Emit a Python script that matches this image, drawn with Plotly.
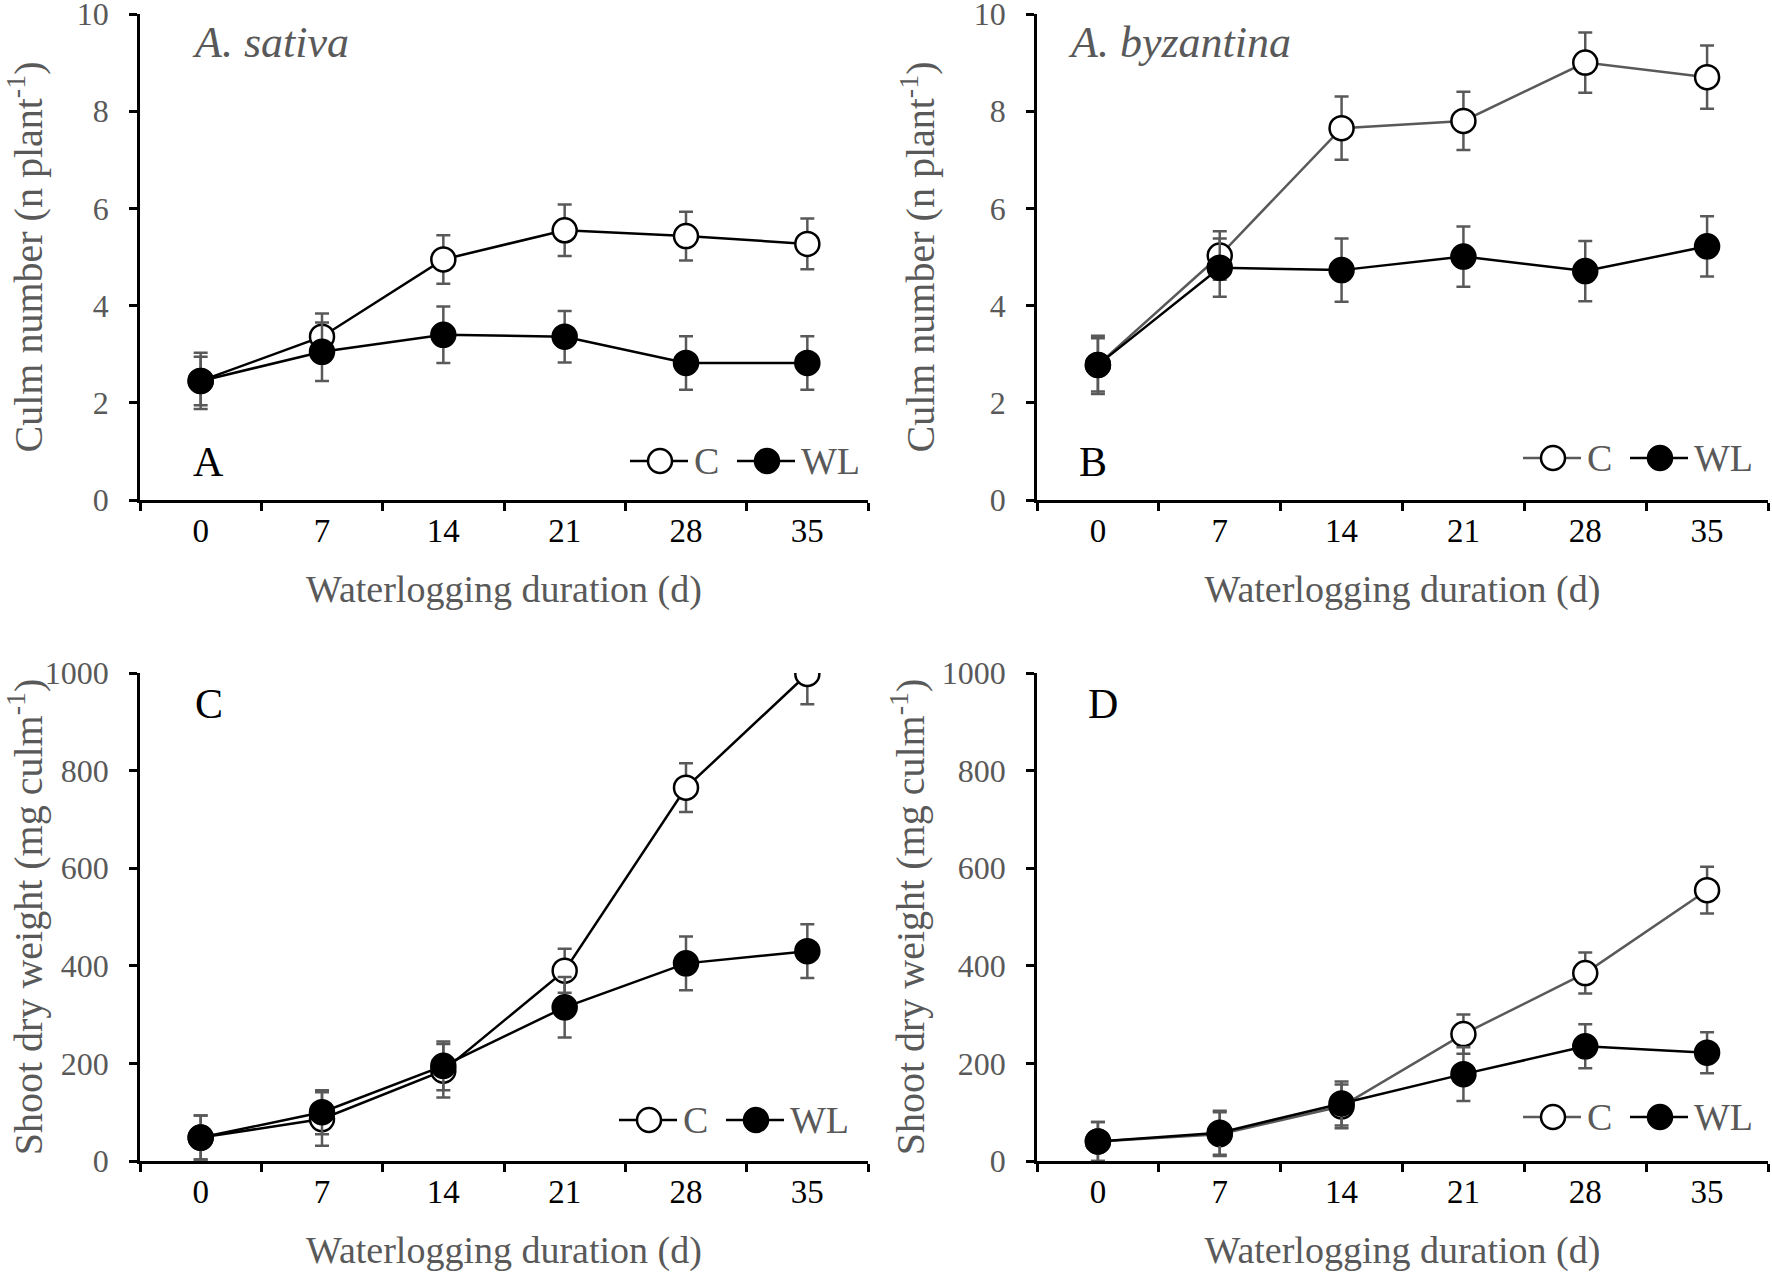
import plotly.graph_objects as go

days = ["0", "7", "14", "21", "28", "35"]

# Panel A: A. sativa culm number
a_c = [2.45, 3.36, 4.95, 5.55, 5.43, 5.27]
a_c_err = [0.50, 0.48, 0.50, 0.53, 0.50, 0.52]
a_wl = [2.45, 3.05, 3.40, 3.36, 2.82, 2.82]
a_wl_err = [0.58, 0.60, 0.58, 0.53, 0.55, 0.55]

# Panel B: A. byzantina culm number
b_c = [2.78, 5.03, 7.65, 7.80, 9.00, 8.70]
b_c_err = [0.55, 0.50, 0.65, 0.60, 0.62, 0.65]
b_wl = [2.78, 4.78, 4.73, 5.01, 4.71, 5.22]
b_wl_err = [0.60, 0.60, 0.65, 0.62, 0.62, 0.62]

# Panel C: A. sativa shoot dry weight
c_c = [48, 86, 185, 390, 765, 998]
c_c_err = [45, 55, 55, 45, 50, 62]
c_wl = [48, 100, 195, 315, 405, 430]
c_wl_err = [45, 45, 50, 62, 55, 55]

# Panel D: A. byzantina shoot dry weight
d_c = [40, 55, 112, 260, 385, 555]
d_c_err = [40, 45, 45, 40, 42, 48]
d_wl = [40, 58, 118, 178, 235, 222]
d_wl_err = [40, 45, 45, 55, 45, 42]

legend_names = ["C", "WL"]

GREY = "#595959"
FONT = "Liberation Serif"
W, H = 1772, 1276


def px(x):
    return x / W


def py(y):
    return 1 - y / H


fig = go.Figure()

panels = [
    ("x", "y", a_c, a_c_err, a_wl, a_wl_err, "black"),
    ("x2", "y2", b_c, b_c_err, b_wl, b_wl_err, GREY),
    ("x3", "y3", c_c, c_c_err, c_wl, c_wl_err, "black"),
    ("x4", "y4", d_c, d_c_err, d_wl, d_wl_err, GREY),
]

for xa, ya, cv, ce, wv, we, ccol in panels:
    fig.add_trace(go.Scatter(
        x=days, y=cv, xaxis=xa, yaxis=ya, name=legend_names[0],
        mode="lines+markers", showlegend=False,
        line=dict(color=ccol, width=2.5),
        marker=dict(symbol="circle", size=24, color="white",
                    line=dict(color="black", width=2.5)),
        error_y=dict(type="data", array=ce, visible=True, color=GREY,
                     thickness=2.5, width=7),
    ))
    fig.add_trace(go.Scatter(
        x=days, y=wv, xaxis=xa, yaxis=ya, name=legend_names[1],
        mode="lines+markers", showlegend=False,
        line=dict(color="black", width=2.5),
        marker=dict(symbol="circle", size=24, color="black",
                    line=dict(color="black", width=2.5)),
        error_y=dict(type="data", array=we, visible=True, color=GREY,
                     thickness=2.5, width=7),
    ))

xdom_left = [px(140), px(868)]
xdom_right = [px(1037), px(1768)]
ydom_top = [py(500), py(14)]
ydom_bot = [py(1161), py(673)]

xaxis_common = dict(
    type="category", categoryorder="array", categoryarray=days,
    range=[-0.5, 5.5], tickson="boundaries", ticks="outside", ticklen=8,
    tickwidth=2.5, tickcolor="black", showline=True, linecolor="black",
    linewidth=2.5, showgrid=False, zeroline=False, automargin=False,
    ticklabelstandoff=0, ticklabeloverflow="allow",
    tickfont=dict(family=FONT, size=33, color="black"),
    title=dict(text="Waterlogging duration (d)",
               font=dict(family=FONT, size=38, color=GREY), standoff=28),
)
yaxis_common = dict(
    ticks="outside", ticklen=8, tickwidth=2.5, tickcolor="black",
    showline=True, linecolor="black", linewidth=2.5, showgrid=False,
    zeroline=False, automargin=False, ticklabelstandoff=14,
    ticklabeloverflow="allow",
    tickfont=dict(family=FONT, size=32, color=GREY),
)

ytitle_culm = "Culm number (n plant<sup>-1</sup>)"
ytitle_shoot = "Shoot dry weight (mg culm<sup>-1</sup>)"
tfont = dict(family=FONT, size=40, color=GREY)

fig.update_layout(
    width=W, height=H,
    paper_bgcolor="white", plot_bgcolor="white",
    margin=dict(l=0, r=0, t=0, b=0),
    showlegend=False,
    font=dict(family=FONT, color=GREY),
    xaxis=dict(domain=xdom_left, anchor="y", **xaxis_common),
    xaxis2=dict(domain=xdom_right, anchor="y2", **xaxis_common),
    xaxis3=dict(domain=xdom_left, anchor="y3", **xaxis_common),
    xaxis4=dict(domain=xdom_right, anchor="y4", **xaxis_common),
    yaxis=dict(domain=ydom_top, anchor="x", range=[0, 10], dtick=2,
               title=dict(text=ytitle_culm, font=tfont, standoff=27),
               **yaxis_common),
    yaxis2=dict(domain=ydom_top, anchor="x2", range=[0, 10], dtick=2,
                title=dict(text=ytitle_culm, font=tfont, standoff=27),
                **yaxis_common),
    yaxis3=dict(domain=ydom_bot, anchor="x3", range=[0, 1000], dtick=200,
                title=dict(text=ytitle_shoot, font=tfont, standoff=5),
                **yaxis_common),
    yaxis4=dict(domain=ydom_bot, anchor="x4", range=[0, 1000], dtick=200,
                title=dict(text=ytitle_shoot, font=tfont, standoff=5),
                **yaxis_common),
)

# Custom legends (line + large circle marker + label), one per panel
legend_pos = [(630, 461, "black"), (1523, 458, GREY),
              (619, 1120, "black"), (1523, 1117, GREY)]
shapes = []
annotations = []
for x0, yc, ccol in legend_pos:
    items = [(x0, ccol, "white", legend_names[0]),
             (x0 + 107, "black", "black", legend_names[1])]
    for sx, lcol, fill, label in items:
        shapes.append(dict(type="line", xref="paper", yref="paper",
                           x0=px(sx), x1=px(sx + 58), y0=py(yc), y1=py(yc),
                           line=dict(color=lcol, width=2.5)))
        shapes.append(dict(type="circle", xref="paper", yref="paper",
                           xsizemode="pixel", ysizemode="pixel",
                           xanchor=px(sx + 30), yanchor=py(yc),
                           x0=-12, x1=12, y0=-12, y1=12,
                           fillcolor=fill, line=dict(color="black", width=2.5)))
        annotations.append(dict(text=label, xref="paper", yref="paper",
                                x=px(sx + 62), y=py(yc), xanchor="left",
                                yanchor="middle", showarrow=False,
                                font=dict(family=FONT, size=38, color=GREY)))

texts = [
    ("A", 208, 462, "center", "black", 42),
    ("B", 1093, 462, "center", "black", 42),
    ("C", 209, 704, "center", "black", 42),
    ("D", 1103, 704, "center", "black", 42),
    ("<i>A. sativa</i>", 190, 42, "left", GREY, 44),
    ("<i>A. byzantina</i>", 1066, 42, "left", GREY, 44),
]
for text, tx, ty, anchor, col, sz in texts:
    annotations.append(dict(
        text=text, xref="paper", yref="paper", x=px(tx), y=py(ty),
        xanchor=anchor, yanchor="middle", showarrow=False,
        font=dict(family=FONT, size=sz, color=col)))

fig.update_layout(shapes=shapes, annotations=annotations)

fig.write_html(
    "out.html",
    config={"displayModeBar": False},
    post_script="document.body.style.margin='0';document.body.style.overflow='hidden';",
)
